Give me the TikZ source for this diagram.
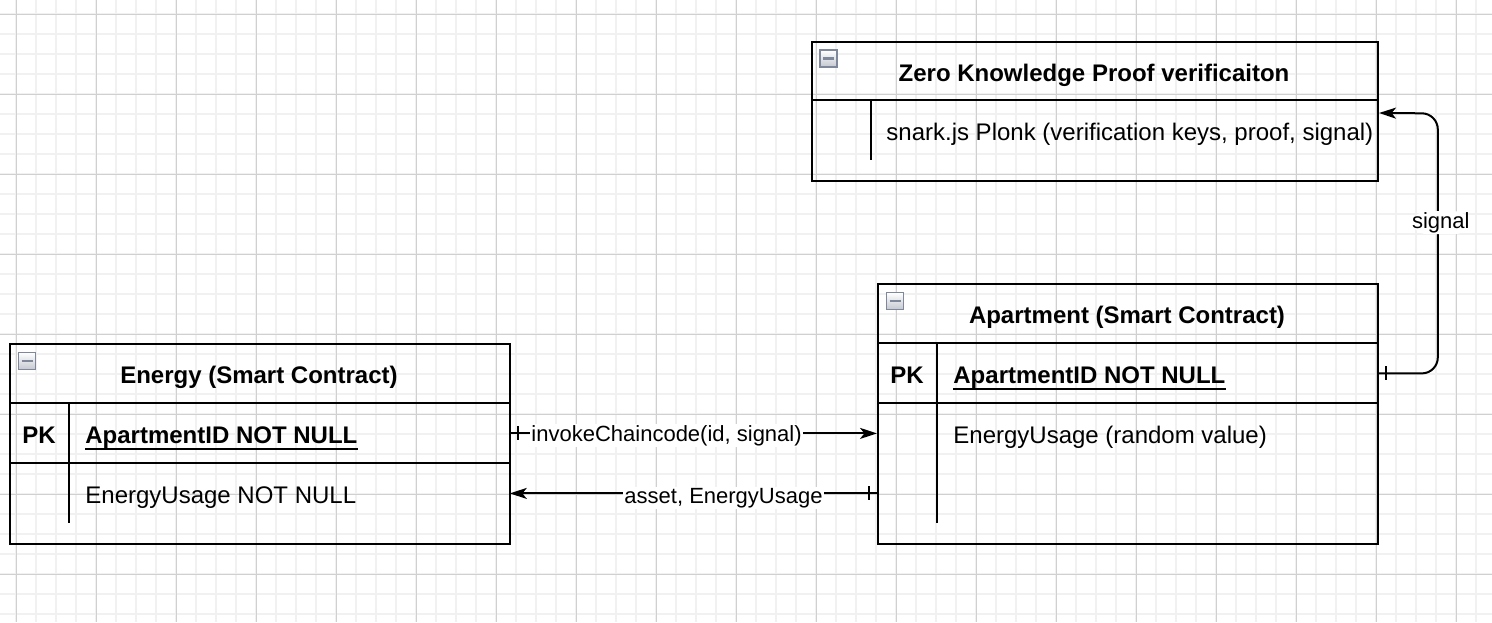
\documentclass[tikz,border=0pt]{standalone}
\usepackage{fontspec}
\setmainfont{Liberation Sans}
\usetikzlibrary{arrows.meta,calc}
\definecolor{gmin}{HTML}{F1F1F1}
\definecolor{gmaj}{HTML}{D0D0D0}
\definecolor{icb}{HTML}{7F889A}
\definecolor{icf}{HTML}{C4C8CF}
\begin{document}
\begin{tikzpicture}[x=0.5pt,y=-0.5pt,
  tbl/.style={draw, line width=1pt, anchor=north west, inner sep=0, minimum width=250pt},
  tline/.style={line width=1pt},
  rowbox/.style={anchor=north west, inner sep=0, minimum width=250pt, minimum height=30pt},
  body/.style={font=\fontsize{12}{14}\selectfont, anchor=base west, inner sep=0},
  bodyb/.style={font=\fontsize{12}{14}\selectfont\bfseries, anchor=base west, inner sep=0},
  ttl/.style={font=\fontsize{12}{14}\selectfont\bfseries, anchor=base, inner sep=0},
  pk/.style={font=\fontsize{12}{14}\selectfont\bfseries, anchor=base, inner sep=0},
  icon/.style={draw=icb, line width=0.9pt, top color=white, bottom color=icf, minimum size=8.5pt, inner sep=0,
    path picture={\draw[line width=1.4pt] ($(path picture bounding box.center)+(-5.5,0)$) -- ++(11,0);}},
  edge/.style={line width=1pt},
  arr/.style={-{Stealth[length=8.5pt,width=5.5pt,inset=2.2pt]}},
  lbl/.style={font=\fontsize{11}{13}\selectfont, fill=white, inner sep=0.6pt, anchor=base}
]
\useasboundingbox (0,0) rectangle (1492,622);
\fill[white] (0,0) rectangle (1492,622);
% grid
\foreach \x in {16,36,...,1476} \draw[gmin, line width=1pt] (\x,0) -- (\x,622);
\foreach \y in {14,34,...,614} \draw[gmin, line width=1pt] (0,\y) -- (1492,\y);
\foreach \x in {16,96,...,1456} \draw[gmaj, line width=0.5pt] (\x,0) -- (\x,622);
\foreach \y in {14,94,...,574} \draw[gmaj, line width=0.5pt] (0,\y) -- (1492,\y);

% ---------- ZKP table ----------
\node[tbl, minimum width=283pt, minimum height=69.5pt] (zkp) at (811,41) {};
\draw[tline] ($(zkp.north west)+(0,59)$) -- ($(zkp.north east)+(0,59)$);
\draw[tline] ($(zkp.north west)+(60,59)$) -- ++(0,60);
\node[rowbox, minimum width=283pt] (zrow) at (811,100) {};
\node[icon] (zkp-ic) at (828.5,58.5) {};
\node[ttl] (zkp-title) at (1094,81) {Zero Knowledge Proof verificaiton};
\node[body] (zkp-r1) at (886,140) {snark.js Plonk (verification keys, proof, signal)};

% ---------- Energy table ----------
\node[tbl, minimum height=100pt] (energy) at (9,343) {};
\draw[tline] ($(energy.north west)+(0,60)$) -- ($(energy.north east)+(0,60)$);
\draw[tline] ($(energy.north west)+(0,120)$) -- ($(energy.north east)+(0,120)$);
\draw[tline] ($(energy.north west)+(60,60)$) -- ++(0,120);
\node[rowbox] (epk) at (9,403) {};
\node[rowbox] (euse) at (9,463) {};
\node[icon] (energy-ic) at (27,361) {};
\node[ttl] (energy-title) at (259,383) {Energy (Smart Contract)};
\node[pk] (epk-k) at (39,443) {PK};
\node[bodyb] (epk-id) at (85,443) {ApartmentID NOT NULL};
\draw[line width=1pt] ($(epk-id.base west)+(0,6)$) -- ($(epk-id.base east)+(0,6)$);
\node[body] (euse-t) at (85,503) {EnergyUsage NOT NULL};

% ---------- Apartment table ----------
\node[tbl, minimum height=130pt] (apt) at (877,283) {};
\draw[tline] ($(apt.north west)+(0,60)$) -- ($(apt.north east)+(0,60)$);
\draw[tline] ($(apt.north west)+(0,120)$) -- ($(apt.north east)+(0,120)$);
\draw[tline] ($(apt.north west)+(60,60)$) -- ++(0,180);
\node[rowbox] (apk) at (877,343) {};
\node[rowbox] (ause) at (877,403) {};
\node[rowbox] (aext) at (877,463) {};
\node[icon] (apt-ic) at (895,301) {};
\node[ttl] (apt-title) at (1127,323) {Apartment (Smart Contract)};
\node[pk] (apk-k) at (907,383) {PK};
\node[bodyb] (apk-id) at (953,383) {ApartmentID NOT NULL};
\draw[line width=1pt] ($(apk-id.base west)+(0,6)$) -- ($(apk-id.base east)+(0,6)$);
\node[body] (ause-t) at (953,443) {EnergyUsage (random value)};

% ---------- connectors ----------
\coordinate (zin) at ($(zkp.north east)+(0,72)$);
\draw[edge, arr, rounded corners=8pt] (apk.east) -- ++(60,0)
   -- node[lbl, pos=0.558, xshift=1.5pt] (sig-l) {signal} ++(0,-260) -- (zin);
\draw[edge] ($(apk.east)+(8,-7)$) -- ++(0,14);

\draw[edge, arr] (epk.east) -- node[lbl, pos=0.427, yshift=-4pt] (inv-l) {invokeChaincode(id, signal)} (ause.west);
\draw[edge] ($(epk.east)+(8,-7)$) -- ++(0,14);

\draw[edge, arr] (aext.west) -- node[lbl, pos=0.418, yshift=-5pt] (ast-l) {asset, EnergyUsage} (euse.east);
\draw[edge] ($(aext.west)+(-8,-7)$) -- ++(0,14);
\end{tikzpicture}
\end{document}
